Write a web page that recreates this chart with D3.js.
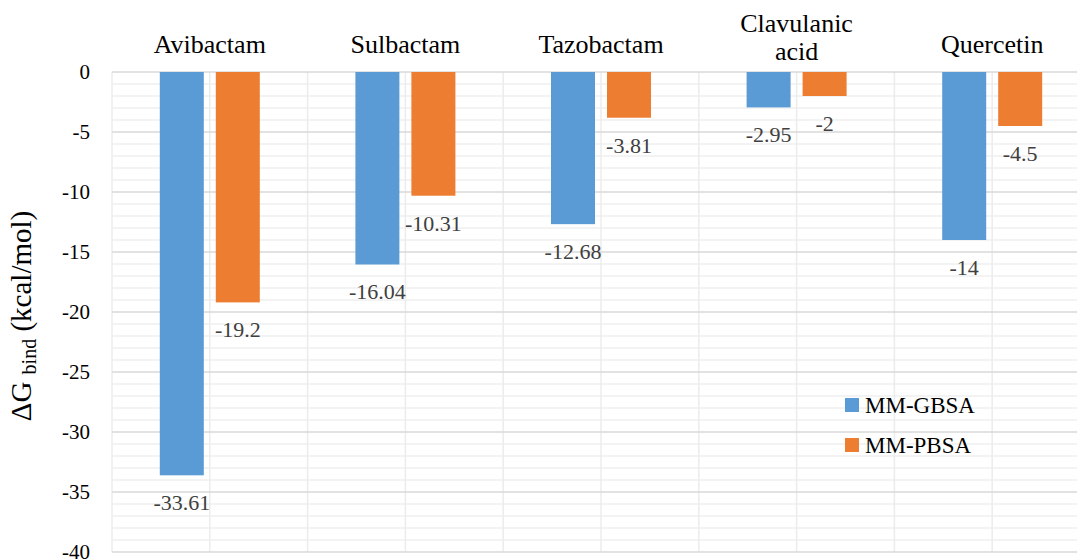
<!DOCTYPE html>
<html>
<head>
<meta charset="utf-8">
<script src="https://cdn.jsdelivr.net/npm/d3@7"></script>
</head>
<body style="margin:0">
<svg id="s" width="1077" height="560"></svg>
<script>
const categories = ["Avibactam", "Sulbactam", "Tazobactam", "Clavulanic acid", "Quercetin"];
const categoryLines = [["Avibactam"], ["Sulbactam"], ["Tazobactam"], ["Clavulanic", "acid"], ["Quercetin"]];
const seriesNames = ["MM-GBSA", "MM-PBSA"];
const gbsaValues = [-33.61, -16.04, -12.68, -2.95, -14];
const pbsaValues = [-19.2, -10.31, -3.81, -2, -4.5];
const yTicks = [0, -5, -10, -15, -20, -25, -30, -35, -40];
const colors = ["#5B9BD5", "#ED7D31"];

const svg = d3.select("#s");
const pLeft = 112, pRight = 1090, pTop = 72, pBottom = 552;
const FONT = '"Liberation Serif"';
function serif(sel) { return sel.style("font-family", FONT, "important"); }

const x = d3.scaleBand().domain(categories).range([pLeft, pRight]).padding(0);
const catW = x.bandwidth();
const xInner = d3.scaleBand().domain(seriesNames)
  .range([catW / 2 - 50, catW / 2 + 50]).paddingInner(12 / 56).paddingOuter(0);
const y = d3.scaleLinear().domain([0, -40]).range([pTop, pBottom]);

// minor horizontal gridlines
const minorTicks = d3.range(0, -41, -1).filter(v => v % 5 !== 0);
svg.append("g").selectAll("line").data(minorTicks).join("line")
  .attr("x1", pLeft).attr("x2", pRight)
  .attr("y1", d => y(d)).attr("y2", d => y(d))
  .attr("stroke", "#efefef").attr("stroke-width", 1.5);

// vertical gridlines (category boundaries and centers)
const vLines = d3.range(0, categories.length * 2 + 1).map(k => pLeft + k * catW / 2);
svg.append("g").selectAll("line").data(vLines).join("line")
  .attr("x1", d => d).attr("x2", d => d)
  .attr("y1", pTop).attr("y2", pBottom)
  .attr("stroke", "#ececec").attr("stroke-width", 1.5);

// major horizontal gridlines
svg.append("g").selectAll("line").data(yTicks).join("line")
  .attr("x1", pLeft).attr("x2", pRight)
  .attr("y1", d => y(d)).attr("y2", d => y(d))
  .attr("stroke", "#d9d9d9").attr("stroke-width", 1.5);

// y axis tick labels
const yAxis = d3.axisLeft(y).tickValues(yTicks).tickSize(0).tickPadding(0).tickFormat(d => String(d));
const gy = svg.append("g").attr("transform", "translate(90,0)").call(yAxis);
gy.attr("font-family", null).attr("font-size", null);
gy.select(".domain").remove();
serif(gy.selectAll("text")).attr("font-size", 21).attr("fill", "#000").attr("dy", "0.33em");

// bars and data labels
const series = [gbsaValues, pbsaValues];
series.forEach((vals, si) => {
  const g = svg.append("g");
  g.selectAll("rect").data(vals).join("rect")
    .attr("x", (d, i) => x(categories[i]) + xInner(seriesNames[si]))
    .attr("y", y(0))
    .attr("width", xInner.bandwidth())
    .attr("height", d => y(d) - y(0))
    .attr("fill", colors[si]);
  serif(g.selectAll("text").data(vals).join("text"))
    .attr("x", (d, i) => x(categories[i]) + xInner(seriesNames[si]) + xInner.bandwidth() / 2)
    .attr("y", d => y(d) + 35)
    .attr("text-anchor", "middle")
    .attr("font-size", 22).attr("fill", "#404040")
    .text(d => String(d));
});

// category labels (top)
categoryLines.forEach((lines, i) => {
  const cx = x(categories[i]) + catW / 2;
  const baseY = lines.length === 1 ? [53] : [32, 60];
  lines.forEach((ln, k) => {
    serif(svg.append("text")).attr("x", cx).attr("y", baseY[k]).attr("text-anchor", "middle")
      .attr("font-size", 26).attr("fill", "#000").text(ln);
  });
});

// y axis title
const title = serif(svg.append("text"))
  .attr("transform", `translate(31,${(pTop + pBottom) / 2 + 4}) rotate(-90)`)
  .attr("text-anchor", "middle")
  .attr("font-size", 29).attr("fill", "#000");
title.append("tspan").text("ΔG ");
title.append("tspan").attr("font-size", 20).attr("dy", 5).text("bind");
title.append("tspan").attr("dy", -5).text(" (kcal/mol)");

// legend
seriesNames.forEach((name, i) => {
  const ly = 398 + i * 40;
  svg.append("rect").attr("x", 845).attr("y", ly).attr("width", 14).attr("height", 14).attr("fill", colors[i]);
  serif(svg.append("text")).attr("x", 865).attr("y", ly + 15)
    .attr("font-size", 23).attr("fill", "#000").text(name);
});
</script>
</body>
</html>
